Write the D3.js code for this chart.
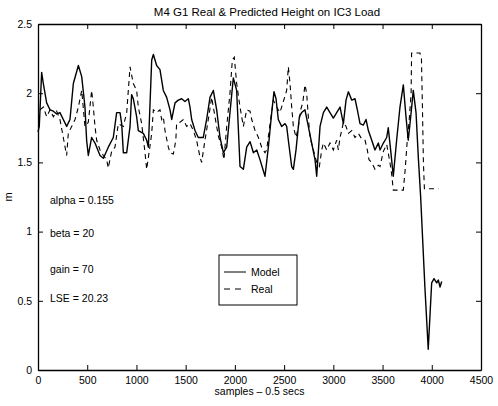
<!DOCTYPE html>
<html>
<head>
<meta charset="utf-8">
<script src="https://cdn.jsdelivr.net/npm/d3@7"></script>
<style>
  html, body { margin: 0; padding: 0; background: #fff; }
  svg { display: block; }
  text { font-family: "Liberation Sans", Arial, Helvetica, sans-serif; fill: #000; }
</style>
</head>
<body>
<script>
// ---- data ----
const title = "M4 G1 Real & Predicted Height on IC3 Load";
const xLabel = "samples \u2013 0.5 secs";
const yLabel = "m";
const xTicks = [0, 500, 1000, 1500, 2000, 2500, 3000, 3500, 4000, 4500];
const yTicks = [0, 0.5, 1, 1.5, 2, 2.5];
const seriesNames = ["Model", "Real"];
const annotations = ["alpha = 0.155", "beta = 20", "gain = 70", "LSE = 20.23"];
const annotationY = [1.23, 0.99, 0.73, 0.52];

const modelX = [0,13,37,54,88,122,156,190,223,257,291,325,359,410,444,477,494,511,545,579,630,664,714,765,799,833,850,867,901,935,951,968,1002,1019,1070,1104,1121,1155,1172,1205,1239,1273,1307,1341,1358,1392,1425,1459,1493,1527,1544,1561,1595,1628,1679,1713,1747,1781,1815,1849,1883,1917,1950,1984,2018,2052,2086,2120,2154,2188,2222,2255,2289,2306,2340,2374,2397,2418,2441,2475,2509,2526,2543,2577,2594,2621,2655,2678,2712,2746,2780,2814,2831,2865,2899,2933,2966,3000,3034,3068,3102,3129,3153,3187,3220,3244,3271,3305,3332,3356,3390,3423,3457,3474,3508,3542,3558,3582,3609,3643,3677,3711,3738,3761,3786,3812,3840,3863,3887,3930,3964,3999,4023,4050,4066,4084,4101];
const modelY = [1.72,1.76,2.15,2.07,1.93,1.88,1.87,1.85,1.86,1.81,1.76,1.81,2.07,2.20,2.12,1.90,1.66,1.55,1.68,1.64,1.55,1.53,1.61,1.68,1.86,1.86,1.78,1.57,1.57,1.76,1.99,1.96,1.83,1.73,1.71,1.66,1.61,2.24,2.28,2.20,2.17,2.02,1.97,1.88,1.81,1.93,1.95,1.96,1.94,1.96,1.90,1.81,1.73,1.68,1.68,1.81,1.97,2.02,1.88,1.68,1.57,1.61,1.86,2.11,2.02,1.47,1.45,1.61,1.65,1.57,1.59,1.52,1.44,1.40,1.61,1.86,2.01,1.96,1.81,1.76,1.78,1.76,1.66,1.47,1.45,1.59,1.83,1.86,1.88,1.76,1.64,1.52,1.40,1.76,1.86,1.90,1.86,1.82,1.86,1.90,1.78,1.95,2.01,1.95,1.96,1.88,1.78,1.77,1.81,1.73,1.66,1.59,1.64,1.59,1.64,1.68,1.75,1.59,1.40,1.66,1.90,2.06,1.83,1.66,1.83,2.02,1.86,1.54,1.25,0.60,0.15,0.63,0.66,0.63,0.65,0.60,0.64];

const realX = [20,54,88,122,156,190,223,257,291,308,342,376,410,444,477,511,545,562,579,596,630,664,697,714,748,782,816,867,901,935,968,1002,1019,1053,1087,1104,1138,1155,1172,1205,1239,1256,1273,1290,1324,1341,1375,1400,1408,1442,1476,1510,1544,1578,1611,1645,1662,1696,1730,1764,1798,1832,1866,1889,1917,1950,1974,1994,2018,2052,2086,2120,2154,2171,2205,2239,2272,2306,2323,2357,2391,2424,2458,2492,2526,2543,2560,2577,2594,2621,2645,2668,2689,2712,2729,2746,2763,2797,2831,2858,2882,2899,2933,2966,3000,3034,3051,3068,3085,3102,3129,3153,3187,3220,3254,3288,3322,3345,3362,3390,3423,3457,3474,3508,3542,3575,3592,3609,3711,3730,3750,3770,3790,3795,3880,3895,3905,3915,3925,4066];
const realY = [1.88,1.90,1.83,1.88,1.83,1.87,1.81,1.68,1.55,1.71,1.76,1.81,1.90,2.02,1.76,1.79,2.02,1.90,1.76,1.66,1.59,1.55,1.52,1.46,1.58,1.61,1.78,1.76,1.86,2.19,2.07,2.02,1.90,1.78,1.57,1.45,1.62,1.71,1.88,1.86,1.88,1.81,1.83,1.73,1.61,1.57,1.56,1.66,1.78,1.79,1.81,1.76,1.78,1.73,1.66,1.54,1.50,1.66,1.81,1.97,1.83,1.69,1.61,1.52,1.76,2.00,2.24,2.26,2.07,1.90,1.76,1.88,1.87,1.81,1.73,1.68,1.61,1.57,1.59,1.78,1.95,1.90,1.86,1.94,2.02,2.19,2.07,1.90,1.76,1.68,1.76,1.88,1.93,2.06,2.00,1.83,1.68,1.59,1.50,1.47,1.59,1.64,1.59,1.64,1.59,1.66,1.59,1.68,1.73,1.79,1.76,1.71,1.73,1.68,1.71,1.67,1.66,1.59,1.52,1.50,1.45,1.48,1.47,1.58,1.63,1.50,1.42,1.30,1.30,1.45,1.65,1.80,2.00,2.29,2.29,2.25,1.90,1.50,1.31,1.31];

// ---- drawing ----
const W = 498, H = 406;
const svg = d3.select("body").append("svg").attr("width", W).attr("height", H);
const x = d3.scaleLinear().domain([0, 4500]).range([38, 481]);
const y = d3.scaleLinear().domain([0, 2.5]).range([370, 24]);

const tickLen = 5;
const fs = 10.5;

// lines
const line = d3.line().x(d => x(d[0])).y(d => y(d[1]));
const modelData = modelX.map((v, i) => [v, modelY[i]]);
const realData = realX.map((v, i) => [v, realY[i]]);

svg.append("path").datum(realData).attr("d", line)
  .attr("fill", "none").attr("stroke", "#000").attr("stroke-width", 1.1)
  .attr("stroke-dasharray", "5,4");
svg.append("path").datum(modelData).attr("d", line)
  .attr("fill", "none").attr("stroke", "#000").attr("stroke-width", 1.4)
  .attr("stroke-linejoin", "round");

// axes
const gBottom = svg.append("g").attr("transform", `translate(0,${y(0)})`)
  .call(d3.axisBottom(x).tickValues(xTicks).tickFormat(d3.format("d")).tickSizeInner(-tickLen).tickSizeOuter(0).tickPadding(7));
const gTop = svg.append("g").attr("transform", `translate(0,${y(2.5)})`)
  .call(d3.axisTop(x).tickValues(xTicks).tickFormat("").tickSizeInner(-tickLen).tickSizeOuter(0));
const gLeft = svg.append("g").attr("transform", `translate(${x(0)},0)`)
  .call(d3.axisLeft(y).tickValues(yTicks).tickFormat(d => d3.format("")(d)).tickSizeInner(-tickLen).tickSizeOuter(0).tickPadding(6));
const gRight = svg.append("g").attr("transform", `translate(${x(4500)},0)`)
  .call(d3.axisRight(y).tickValues(yTicks).tickFormat("").tickSizeInner(-tickLen).tickSizeOuter(0));

svg.selectAll(".domain").attr("stroke", "#000").attr("stroke-width", 1.3);
svg.selectAll(".tick line").attr("stroke", "#000").attr("stroke-width", 1);
svg.selectAll(".tick text").attr("font-size", fs).attr("font-family", "Liberation Sans, Arial, sans-serif");

// title and labels
svg.append("text").attr("x", 267).attr("y", 16).attr("text-anchor", "middle")
  .attr("font-size", 11.5).text(title);
svg.append("text").attr("x", (x(0) + x(4500)) / 2).attr("y", 395).attr("text-anchor", "middle")
  .attr("font-size", fs).text(xLabel);
svg.append("text").attr("transform", `translate(12,${y(1.25)}) rotate(-90)`).attr("text-anchor", "middle")
  .attr("font-size", 11).text(yLabel);

// annotations
svg.selectAll("text.ann").data(annotations).enter().append("text").attr("class", "ann")
  .attr("x", 50).attr("y", (d, i) => y(annotationY[i]) + 4)
  .attr("font-size", 10.5).text(d => d);

// legend
const lg = svg.append("g");
lg.append("rect").attr("x", 219).attr("y", 255).attr("width", 78).attr("height", 50)
  .attr("fill", "#fff").attr("stroke", "#000").attr("stroke-width", 1);
const legY = [272, 289];
seriesNames.forEach((n, i) => {
  lg.append("line").attr("x1", 224).attr("x2", 246).attr("y1", legY[i]).attr("y2", legY[i])
    .attr("stroke", "#000").attr("stroke-width", i === 0 ? 1 : 1.1)
    .attr("stroke-dasharray", i === 0 ? null : "6,5");
  lg.append("text").attr("x", 251).attr("y", legY[i] + 4).attr("font-size", 10.5).text(n);
});
</script>
</body>
</html>
